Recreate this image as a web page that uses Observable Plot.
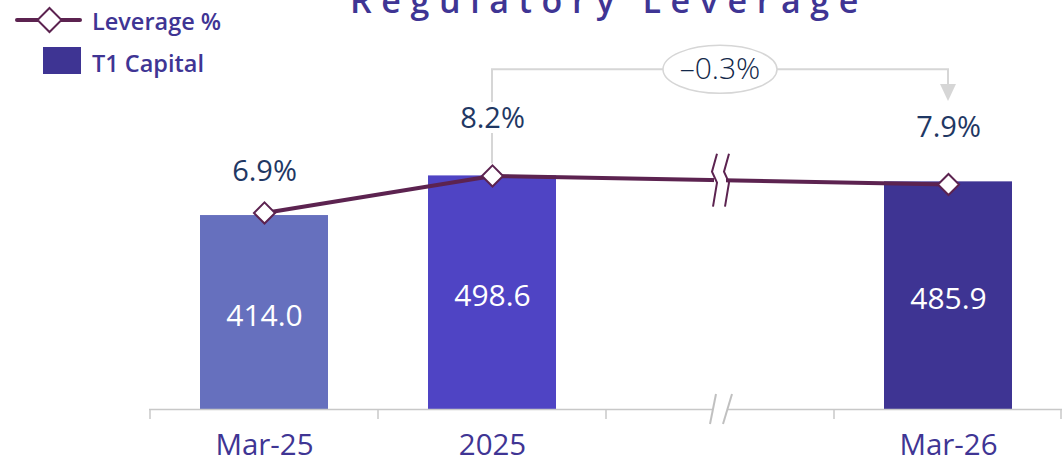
<!DOCTYPE html>
<html><head><meta charset="utf-8">
<script src="https://cdn.jsdelivr.net/npm/d3@7"></script>
<script src="https://cdn.jsdelivr.net/npm/@observablehq/plot@0.6"></script>
<style>
body{margin:0;background:#fff;}
#wrap{position:relative;width:1062px;height:463px;overflow:hidden;font-family:"Open Sans",sans-serif;}
#title{position:absolute;left:350px;top:-17px;font-size:34px;line-height:34px;font-weight:600;letter-spacing:9.6px;color:#3f3594;white-space:nowrap;}
.leg{position:absolute;left:92px;font-size:23.5px;line-height:24px;font-weight:600;color:#3f3594;white-space:nowrap;}
.icon{position:absolute;left:0;top:0;}
</style></head><body>
<div id="wrap"></div>
<script>
// ---- data ----
const periods = ["Mar-25", "2025", "Mar-26"];
const t1Capital = [414.0, 498.6, 485.9];
const leveragePct = [6.9, 8.2, 7.9];
const xDomain = ["Mar-25", "2025", "break", "Mar-26"];
const barColors = ["#6670be", "#4f44c4", "#3e3493"];
const titleText = "Regulatory Leverage";
const legendLabels = ["Leverage %", "T1 Capital"];

// leverage is drawn on the capital axis (capital units per leverage point)
const LEV_K = 60.8;
const BRACKET_LEVEL = 725;   // capital-axis value of the comparison bracket
const lineColor = "#5c2350";
const grey = "#d6d6d6";

const capData = periods.map((p, i) => ({period: p, value: t1Capital[i]}));
const levData = periods.map((p, i) => ({period: p, lev: leveragePct[i], yv: leveragePct[i] * LEV_K}));

const band = (x) => {
  const bw = typeof x.bandwidth === "function" ? x.bandwidth() : (x.bandwidth || 0);
  const step = typeof x.step === "function" ? x.step() : (x(xDomain[1]) - x(xDomain[0]));
  return {bw, step, cx: v => x(v) + bw / 2};
};

// boundary ticks + axis break
const axisDecor = (index, {x, y}) => {
  const {bw, step, cx} = band(x);
  const g = d3.create("svg:g");
  const y0 = y(0);
  const edges = xDomain.map(d => cx(d) - step / 2).concat([cx(xDomain[xDomain.length - 1]) + step / 2 - 1]);
  for (const e of edges) {
    g.append("line").attr("x1", e).attr("x2", e).attr("y1", y0).attr("y2", y0 + 10)
      .attr("stroke", "#c8c8c8").attr("stroke-width", 1.5);
  }
  const bx = cx("break");
  g.append("path").attr("d", `M${bx-4},${y0-15} L${bx+12},${y0-15} L${bx+3},${y0+15} L${bx-10},${y0+15}Z`).attr("fill", "white");
  g.append("line").attr("x1", bx-4).attr("y1", y0-15).attr("x2", bx-10).attr("y2", y0+15).attr("stroke", "#c0c0c0").attr("stroke-width", 2);
  g.append("line").attr("x1", bx+12).attr("y1", y0-15).attr("x2", bx+3).attr("y2", y0+15).attr("stroke", "#c0c0c0").attr("stroke-width", 2);
  return g.node();
};

// break marks on the leverage line
const lineBreak = (index, {x, y}) => {
  const {cx} = band(x);
  const bx = cx("break");
  const by = y((leveragePct[1] + leveragePct[2]) / 2 * LEV_K);
  const g = d3.create("svg:g");
  g.append("rect").attr("x", bx - 6).attr("y", by - 4).attr("width", 12).attr("height", 8).attr("fill", "white");
  const zig = o => `M${bx+o+3},${by-26} L${bx+o-2},${by-8} L${bx+o+3},${by+3} L${bx+o-1},${by+27}`;
  for (const o of [-6, 6]) g.append("path").attr("d", zig(o)).attr("fill", "none").attr("stroke", lineColor).attr("stroke-width", 2);
  return g.node();
};

// comparison bracket from 2025 to Mar-26
const bracket = (index, {x, y}) => {
  const {cx} = band(x);
  const x1 = cx(periods[1]), x2 = cx(periods[2]);
  const yTop = y(BRACKET_LEVEL);
  const yStart = y(leveragePct[1] * LEV_K) - 12;
  const yTip = y(leveragePct[2] * LEV_K) - 83;
  const g = d3.create("svg:g");
  g.append("path").attr("d", `M${x1},${yStart} V${yTop} H${x2} V${yTip - 14}`)
    .attr("fill", "none").attr("stroke", grey).attr("stroke-width", 2);
  g.append("path").attr("d", `M${x2-8},${yTip-17} L${x2+8},${yTip-17} L${x2},${yTip}Z`).attr("fill", grey);
  const mx = (x1 + x2) / 2;
  g.append("ellipse").attr("cx", mx).attr("cy", yTop).attr("rx", 57).attr("ry", 24)
    .attr("fill", "white").attr("stroke", grey).attr("stroke-width", 1.5);
  const diff = (leveragePct[2] - leveragePct[1]).toFixed(1).replace("-", "\u2013");
  g.append("text").attr("x", mx).attr("y", yTop + 10).attr("text-anchor", "middle")
    .attr("font-size", 30).attr("font-weight", 300).attr("fill", "#12284a").text(diff + "%");
  return g.node();
};

const chart = Plot.plot({
  width: 1062, height: 463,
  marginTop: 0, marginBottom: 54, marginLeft: 149, marginRight: 0,
  style: {fontFamily: "Open Sans, sans-serif", background: "white"},
  x: {domain: xDomain, paddingInner: 0.44, paddingOuter: 0.22, axis: null},
  y: {domain: [0, 873], axis: null},
  color: {domain: periods, range: barColors},
  marks: [
    Plot.barY(capData, {x: "period", y: "value", fill: "period"}),
    Plot.ruleY([0], {stroke: "#c8c8c8", strokeWidth: 1.5}),
    axisDecor,
    Plot.axisX({domain: xDomain, tickSize: 0, tickPadding: 25, fontSize: 29.5, color: "#3f3594", label: null,
      tickFormat: d => d === "break" ? "" : d}),
    bracket,
    Plot.line(levData, {x: "period", y: "yv", stroke: lineColor, strokeWidth: 4}),
    lineBreak,
    Plot.dot(levData, {x: "period", y: "yv", symbol: "diamond2", r: 9.5, fill: "white", stroke: lineColor, strokeWidth: 2}),
    Plot.text(capData, {x: "period", y: d => d.value / 2, text: d => d.value.toFixed(1), fill: "white", fontSize: 30, fontWeight: 400, dy: 4}),
    Plot.text(levData.slice(0, 1), {x: "period", y: "yv", text: d => d.lev.toFixed(1) + "%", fill: "#1f3864", fontSize: 29, fontWeight: 400, dy: -41, stroke: "white", strokeWidth: 10}),
    Plot.text(levData.slice(1), {x: "period", y: "yv", text: d => d.lev.toFixed(1) + "%", fill: "#1f3864", fontSize: 29, fontWeight: 400, dy: -57, stroke: "white", strokeWidth: 10})
  ]
});

const wrap = document.getElementById("wrap");
wrap.appendChild(chart);
const t = document.createElement("div"); t.id = "title"; t.textContent = titleText; wrap.appendChild(t);

const icons = document.createElementNS("http://www.w3.org/2000/svg", "svg");
icons.setAttribute("class", "icon"); icons.setAttribute("width", 90); icons.setAttribute("height", 80);
icons.innerHTML = `<line x1="17" y1="20" x2="80" y2="20" stroke="${lineColor}" stroke-width="4" stroke-linecap="round"/>
<path d="M49.5,8 L61.5,20 L49.5,32 L37.5,20Z" fill="white" stroke="${lineColor}" stroke-width="2"/>
<rect x="43" y="47" width="38" height="27" fill="${barColors[2]}"/>`;
wrap.appendChild(icons);
legendLabels.forEach((s, i) => {
  const d = document.createElement("div"); d.className = "leg"; d.textContent = s;
  d.style.top = (i === 0 ? 9 : 51) + "px"; wrap.appendChild(d);
});
</script>
</body></html>
